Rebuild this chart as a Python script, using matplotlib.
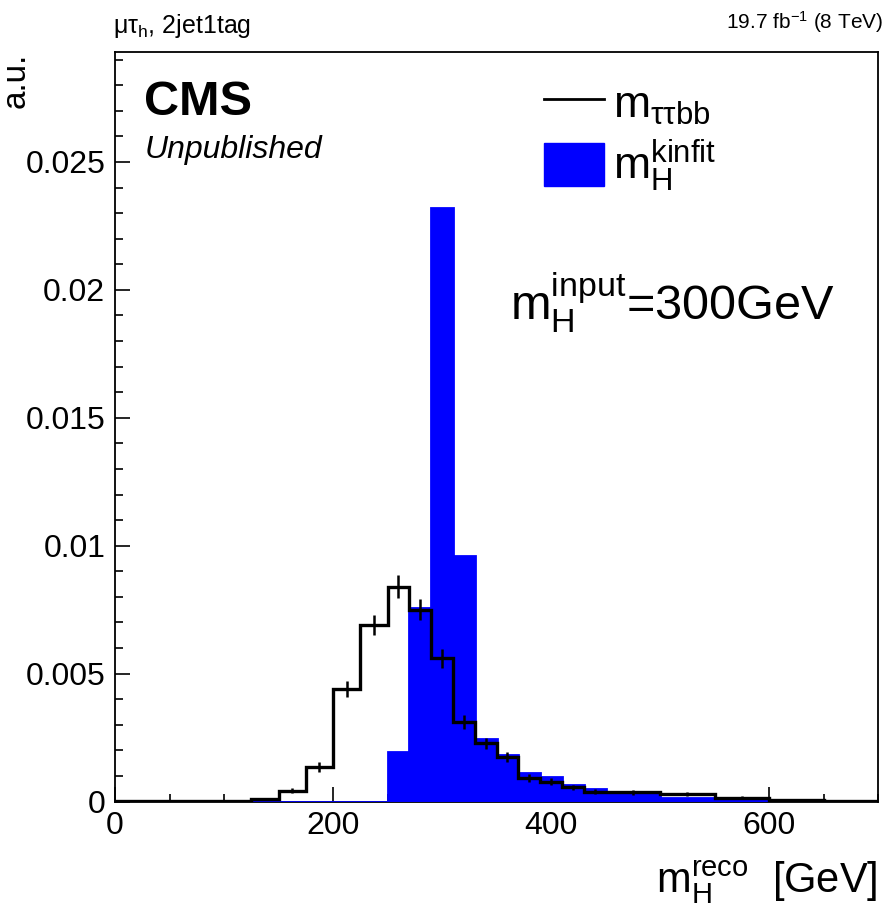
import matplotlib
matplotlib.use("Agg")

import numpy as np
import matplotlib.pyplot as plt
from matplotlib.lines import Line2D
from matplotlib.patches import Patch
from matplotlib.ticker import MultipleLocator, FuncFormatter

# Binning (variable, GeV) and normalised contents
bin_edges = [0, 25, 50, 75, 100, 125, 150, 175, 200, 225, 250, 270, 290, 310, 330,
             350, 370, 390, 410, 430, 450, 500, 550, 600, 650, 700]

m_ttbb = [0.00002, 0.00002, 0.00002, 0.00002, 0.00003, 0.0001, 0.00043, 0.00135,
          0.0044, 0.0069, 0.0084, 0.0075, 0.0056, 0.0031, 0.00227, 0.00173,
          0.00093, 0.00077, 0.00055, 0.00038, 0.00036, 0.00029, 0.00015, 0.00004,
          0.00003]
m_ttbb_err = [0.00002, 0.00002, 0.00002, 0.00002, 0.00003, 0.00005, 0.0001, 0.00018,
              0.00032, 0.00041, 0.00045, 0.00042, 0.00037, 0.00028, 0.00023, 0.0002,
              0.00015, 0.00014, 0.00011, 0.0001, 0.00009, 0.00008, 0.00006, 0.00003,
              0.00003]

m_kinfit = [0, 0, 0, 0, 0, 0, 0, 0, 0, 0, 0.00195, 0.00755, 0.0232, 0.0096, 0.00243,
            0.0018, 0.00112, 0.00094, 0.00063, 0.00047, 0.00034, 0.00014, 0.00004,
            0.00002, 0.00001]

X_MAX = 700
Y_MAX = 0.0293

plt.rcParams["font.family"] = ["Liberation Sans", "DejaVu Sans"]
plt.rcParams["mathtext.fontset"] = "custom"
plt.rcParams["mathtext.rm"] = "Liberation Sans"
plt.rcParams["mathtext.it"] = "Liberation Sans:italic"
plt.rcParams["mathtext.default"] = "regular"

fig = plt.figure(figsize=(8.95, 9.07), dpi=100)
ax = fig.add_axes([115 / 895, 1 - 801.5 / 907, 763 / 895, 749.5 / 907])

edges = np.array(bin_edges, dtype=float)
centers = 0.5 * (edges[1:] + edges[:-1])

# filled kinfit histogram
ax.stairs(m_kinfit, edges, fill=True, color="#0000ff", zorder=3)
ax.stairs(m_kinfit, edges, color="#0000ff", linewidth=2, zorder=3)

# reco histogram with stat errors
ax.stairs(m_ttbb, edges, color="black", linewidth=2.4, zorder=4)
ax.errorbar(centers, m_ttbb, yerr=m_ttbb_err, fmt="none", ecolor="black",
            elinewidth=1.8, capsize=0, zorder=4)

ax.set_xlim(0, X_MAX)
ax.set_ylim(0, Y_MAX)

ax.xaxis.set_major_locator(MultipleLocator(200))
ax.xaxis.set_minor_locator(MultipleLocator(50))
ax.yaxis.set_major_locator(MultipleLocator(0.005))
ax.yaxis.set_minor_locator(MultipleLocator(0.001))
ax.yaxis.set_major_formatter(FuncFormatter(lambda v, p: "%g" % round(v, 4)))
ax.xaxis.set_major_formatter(FuncFormatter(lambda v, p: "%d" % v))

ax.tick_params(which="both", direction="in", top=False, right=False,
               labelsize=23, width=1.2)
ax.tick_params(which="major", length=11, pad=7)
ax.tick_params(which="minor", length=6)
for s in ax.spines.values():
    s.set_linewidth(1.3)

# legend
handles = [Line2D([], [], color="black", linewidth=2),
           Patch(facecolor="#0000ff", edgecolor="#0000ff")]
labels = [r"$m_{\tau\tau bb}$", r"$m_{H}^{kinfit}$"]
ax.legend(handles, labels, loc="upper left", bbox_to_anchor=(0.539, 0.985),
          frameon=False, fontsize=32, handlelength=1.35, handleheight=1.1,
          handletextpad=0.2, labelspacing=0.25, borderaxespad=0)

# texts
ax.text((144 - 115) / 763, (801.5 - 115) / 749.5, "CMS",
        transform=ax.transAxes, fontsize=35, fontweight="bold", va="baseline")
ax.text((145 - 115) / 763, (801.5 - 158) / 749.5, "Unpublished",
        transform=ax.transAxes, fontsize=23, style="italic", va="baseline")
ax.text((510 - 115) / 763, (801.5 - 320) / 749.5, r"$m_{H}^{input}$=300GeV",
        transform=ax.transAxes, fontsize=35, va="baseline")

fig.text(113 / 895, 1 - 33 / 907, r"$\mu\tau_{h}$, 2jet1tag", fontsize=18,
         va="baseline", ha="left")
fig.text(883 / 895, 1 - 29 / 907, r"19.7 fb$^{-1}$ (8 TeV)", fontsize=15,
         va="baseline", ha="right")

fig.text(878 / 895, 1 - 893 / 907, r"$m_{H}^{reco}$  [GeV]", fontsize=30,
         va="baseline", ha="right")
fig.text(1 / 895, 1 - 53 / 907, "a.u.", fontsize=24, rotation=90,
         ha="left", va="top")

fig.savefig("out.png", dpi=100)
